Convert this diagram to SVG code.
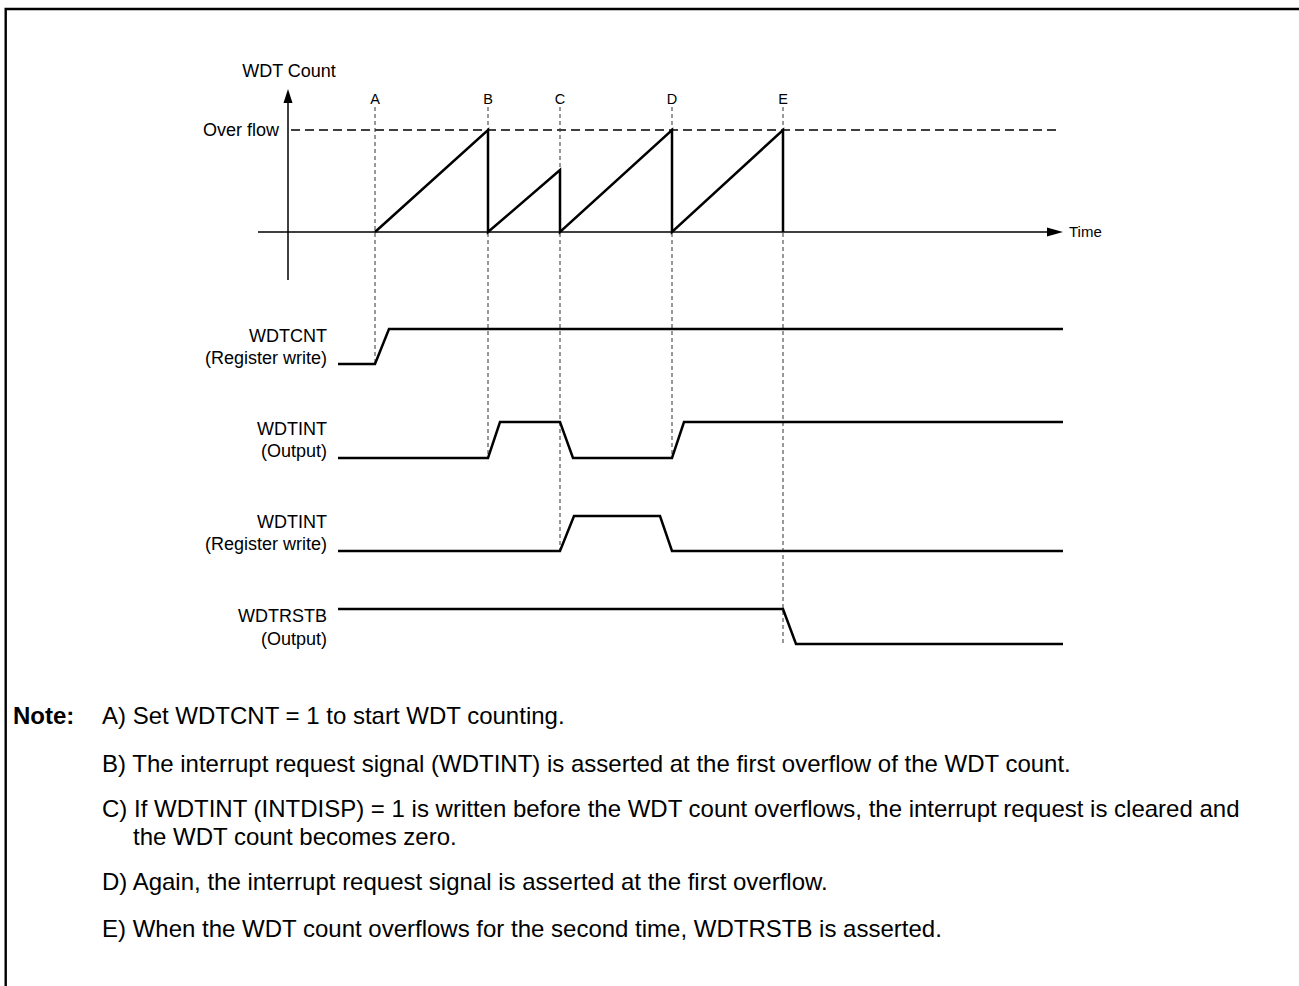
<svg xmlns="http://www.w3.org/2000/svg" width="1299" height="986" viewBox="0 0 1299 986">
<style>
text{font-family:"Liberation Sans",Arial,sans-serif;fill:#000}
.lbl{font-size:18px}
.sig{font-size:18px;text-anchor:end}
.mark{font-size:14.5px;text-anchor:middle}
.note{font-size:24px}
.sigline{fill:none;stroke:#000;stroke-width:2.5;stroke-linejoin:miter}
.vdash{fill:none;stroke:#333;stroke-width:1;stroke-dasharray:4 3}
.hdash{fill:none;stroke:#000;stroke-width:1.3;stroke-dasharray:9 5}
.axis{fill:none;stroke:#000;stroke-width:1.5}
</style>
<rect width="1299" height="986" fill="#fff"/>
<g id="frame">
<path d="M4.5,9 H1299 M5.7,8 V986" fill="none" stroke="#000" stroke-width="2.4"/>
</g>
<g id="axes">
<path class="axis" d="M288,100 V280"/>
<polygon points="288,89 283.5,103 292.5,103" fill="#000"/>
<path class="axis" d="M258,232 H1050"/>
<polygon points="1063,232 1047,227.5 1047,236.5" fill="#000"/>
<text class="lbl" x="289" y="77" text-anchor="middle">WDT Count</text>
<text class="lbl" x="279" y="136" text-anchor="end">Over flow</text>
<text x="1069" y="237" font-size="15">Time</text>
</g>
<g id="markers">
<text class="mark" x="375" y="104">A</text>
<text class="mark" x="488" y="104">B</text>
<text class="mark" x="560" y="104">C</text>
<text class="mark" x="672" y="104">D</text>
<text class="mark" x="783" y="104">E</text>
</g>
<g id="connectors">
<path class="hdash" d="M291,130 H1058"/>
<path class="vdash" d="M375,107 V364"/>
<path class="vdash" d="M488,107 V458"/>
<path class="vdash" d="M560,107 V551"/>
<path class="vdash" d="M672,107 V458"/>
<path class="vdash" d="M783,107 V644"/>
</g>
<g id="count">
<path class="sigline" d="M375,232 L488,130 V232 L560,170 V232 L672,130 V232 L783,130 V232"/>
</g>
<g id="wdtcnt">
<text class="sig" x="327" y="342">WDTCNT</text>
<text class="sig" x="327" y="364">(Register write)</text>
<path class="sigline" d="M338,364 H375 L389,329 H1063"/>
</g>
<g id="wdtint-out">
<text class="sig" x="327" y="435">WDTINT</text>
<text class="sig" x="327" y="457">(Output)</text>
<path class="sigline" d="M338,458 H488 L500,422 H560 L573,458 H672 L684,422 H1063"/>
</g>
<g id="wdtint-reg">
<text class="sig" x="327" y="528">WDTINT</text>
<text class="sig" x="327" y="550">(Register write)</text>
<path class="sigline" d="M338,551 H560 L574,516 H660 L672,551 H1063"/>
</g>
<g id="wdtrstb">
<text class="sig" x="327" y="622">WDTRSTB</text>
<text class="sig" x="327" y="645">(Output)</text>
<path class="sigline" d="M338,609 H783 L796,644 H1063"/>
</g>
<g id="notes">
<text class="note" x="13" y="724" font-weight="bold">Note:</text>
<text class="note" x="102" y="724">A) Set WDTCNT = 1 to start WDT counting.</text>
<text class="note" x="102" y="772">B) The interrupt request signal (WDTINT) is asserted at the first overflow of the WDT count.</text>
<text class="note" x="102" y="817">C) If WDTINT (INTDISP) = 1 is written before the WDT count overflows, the interrupt request is cleared and</text>
<text class="note" x="133" y="845">the WDT count becomes zero.</text>
<text class="note" x="102" y="890">D) Again, the interrupt request signal is asserted at the first overflow.</text>
<text class="note" x="102" y="937">E) When the WDT count overflows for the second time, WDTRSTB is asserted.</text>
</g>
</svg>
